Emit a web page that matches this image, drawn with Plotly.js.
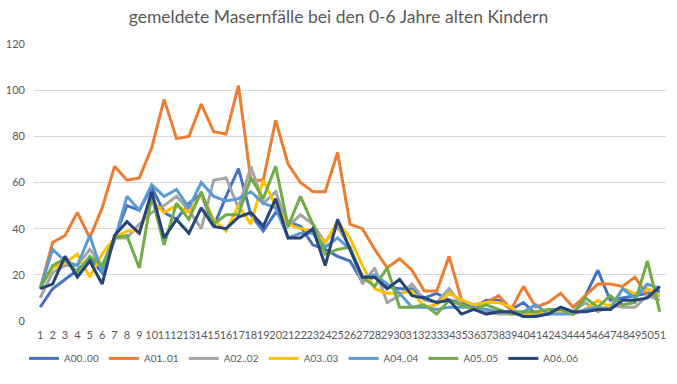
<!DOCTYPE html>
<html>
<head>
<meta charset="utf-8">
<script src="https://cdn.plot.ly/plotly-3.0.1.min.js"></script>
<style>html,body{margin:0;padding:0;background:#fff}#chart{width:677px;height:384px}</style>
</head>
<body>
<div id="chart"></div>
<script>
const weeks = Array.from({length: 51}, (_, i) => i + 1);
const seriesNames = ["A00..00", "A01..01", "A02..02", "A03..03", "A04..04", "A05..05", "A06..06"];
const A00 = [6,14,18,22,27,21,36,50,48,58,47,44,51,55,41,54,66,46,39,47,43,41,33,31,28,26,17,19,15,14,14,10,12,9,8,6,9,9,5,8,3,3,4,3,11,22,9,10,11,12,13];
const A01 = [14,34,37,47,36,49,67,61,62,75,96,79,80,94,82,81,102,61,61,87,68,60,56,56,73,42,40,31,23,27,22,13,13,28,9,7,8,11,5,15,6,8,12,6,11,16,16,15,19,11,11];
const A02 = [10,21,24,24,31,24,36,36,42,47,50,54,48,40,61,62,49,67,51,56,41,46,42,34,41,32,16,23,8,11,16,9,8,14,7,5,4,3,3,3,3,4,4,4,8,4,7,6,6,11,9];
const A03 = [15,23,25,29,19,29,36,39,39,52,47,50,47,55,44,39,50,42,61,50,42,40,39,34,43,36,24,14,12,12,13,6,7,12,9,7,8,8,6,2,4,4,4,3,5,9,6,14,12,14,11];
const A04 = [14,31,26,24,37,21,35,54,48,59,54,57,49,60,54,52,53,56,51,49,36,38,38,32,36,31,19,20,16,12,6,6,5,6,6,6,5,4,4,4,7,3,3,3,5,6,5,14,10,16,14];
const A05 = [14,24,27,21,28,24,36,37,23,54,33,51,44,56,42,46,46,62,53,67,41,54,42,29,31,32,19,15,23,6,6,7,3,9,7,5,7,5,3,4,4,5,5,3,10,6,11,7,8,26,4];
const A06 = [14,16,28,19,26,16,37,43,38,56,36,44,38,49,41,40,45,47,41,53,36,36,40,24,44,31,19,19,14,18,11,10,8,9,3,5,3,4,4,2,2,3,6,4,4,5,5,9,9,10,15];
const yTicks = [0, 20, 40, 60, 80, 100, 120];
const colors = ["#4472C4", "#ED7D31", "#A5A5A5", "#FFC000", "#5B9BD5", "#70AD47", "#264478"];
const allSeries = [A00, A01, A02, A03, A04, A05, A06];

const traces = allSeries.map((vals, i) => ({
  type: "scatter",
  mode: "lines",
  x: weeks,
  y: vals,
  name: seriesNames[i],
  line: {color: colors[i], width: 3},
  hoverinfo: "skip"
}));

const font = "Lato, 'Open Sans', Arial, sans-serif";
const layout = {
  width: 677,
  height: 384,
  margin: {l: 34, r: 11, t: 44, b: 60},
  paper_bgcolor: "#ffffff",
  plot_bgcolor: "#ffffff",
  title: {
    text: "gemeldete Masernfälle bei den 0-6 Jahre alten Kindern",
    font: {family: font, size: 17.5, color: "#595959"},
    x: 0.5, xanchor: "center", y: 0.955, yanchor: "middle"
  },
  xaxis: {
    range: [0.5, 51.5],
    tickmode: "array",
    tickvals: weeks,
    ticktext: weeks.map(String),
    tickangle: 0,
    showgrid: false,
    zeroline: false,
    showline: false,
    ticks: "",
    ticklabelstandoff: 6,
    tickfont: {family: font, size: 11, color: "#595959"},
    fixedrange: true
  },
  yaxis: {
    range: [0, 120],
    tickmode: "array",
    tickvals: yTicks,
    ticktext: yTicks.map(String),
    showgrid: true,
    gridcolor: "#D9D9D9",
    gridwidth: 1,
    zeroline: false,
    showline: false,
    ticks: "",
    ticklabelstandoff: 8,
    tickfont: {family: font, size: 11, color: "#595959"},
    fixedrange: true
  },
  showlegend: true,
  legend: {
    orientation: "h",
    x: (24 - 34) / 632, xanchor: "left",
    y: -0.135, yanchor: "middle",
    font: {family: font, size: 10, color: "#595959"},
    itemwidth: 30,
    tracegroupgap: 0
  }
};

Plotly.newPlot("chart", traces, layout, {staticPlot: true, displayModeBar: false});
</script>
</body>
</html>
